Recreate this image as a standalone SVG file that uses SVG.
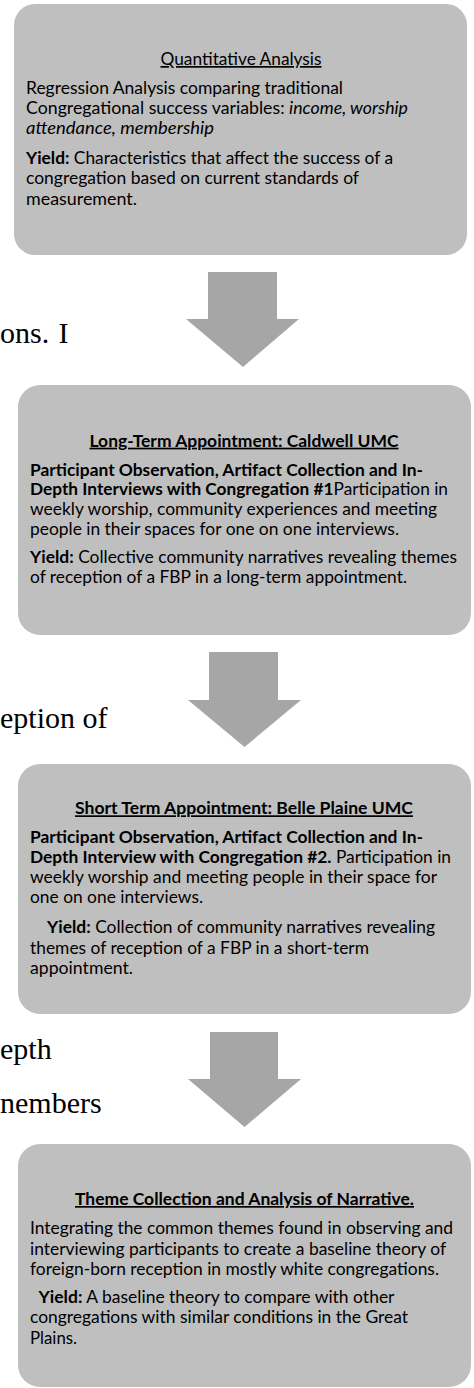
<svg xmlns="http://www.w3.org/2000/svg" width="474" height="1388" viewBox="0 0 474 1388">
  <style>
    .box { fill: #bfbfbf; }
    .arrow { fill: #a6a6a6; }
    .t { font-family: Lato, "Open Sans", "Liberation Sans", sans-serif; font-size: 17px; fill: #000; }
    .title { text-anchor: middle; text-decoration: underline; }
    .b { font-weight: bold; }
    .i { font-style: italic; }
    .serif { font-family: "Liberation Serif", "Times New Roman", serif; font-size: 30px; fill: #000; }
  </style>
  <rect width="474" height="1388" fill="#ffffff"/>

  <!-- body text of the page running behind the flowchart -->
  <g id="page-text">
    <text class="serif" x="0" y="342.7">ons.<tspan x="58.5">I</tspan></text>
    <text class="serif" x="0" y="728">eption of</text>
    <text class="serif" x="0" y="1059">epth</text>
    <text class="serif" x="0" y="1113">nembers</text>
  </g>

  <!-- block arrows between stages -->
  <g id="connectors">
    <polygon class="arrow" points="208,272 277,272 277,319 299,319 243,367 186,319 208,319"/>
    <polygon class="arrow" points="209,652 278,652 278,700 301,700 244.5,747 188,700 209,700"/>
    <polygon class="arrow" points="210,1032 278,1032 278,1079 301,1079 244.5,1127 188,1079 210,1079"/>
  </g>

  <g id="quantitative">
    <rect class="box" x="14" y="4" width="453" height="251" rx="21"/>
    <text class="t title" x="241" y="65" textLength="161" lengthAdjust="spacingAndGlyphs">Quantitative Analysis</text>
    <text class="t" x="26" y="94" textLength="317" lengthAdjust="spacingAndGlyphs">Regression Analysis comparing traditional</text>
    <text class="t" x="26" y="114" textLength="382" lengthAdjust="spacingAndGlyphs">Congregational success variables: <tspan class="i">income, worship</tspan></text>
    <text class="t i" x="26" y="134" textLength="188" lengthAdjust="spacingAndGlyphs">attendance, membership</text>
    <text class="t" x="26" y="164" textLength="367" lengthAdjust="spacingAndGlyphs"><tspan class="b">Yield:</tspan> Characteristics that affect the success of a</text>
    <text class="t" x="26" y="184.3" textLength="333" lengthAdjust="spacingAndGlyphs">congregation based on current standards of</text>
    <text class="t" x="26" y="205" textLength="111" lengthAdjust="spacingAndGlyphs">measurement.</text>
  </g>

  <g id="long-term">
    <rect class="box" x="18" y="385" width="453" height="250" rx="22"/>
    <text class="t title b" x="244" y="446.7" textLength="309" lengthAdjust="spacingAndGlyphs">Long-Term Appointment: Caldwell UMC</text>
    <text class="t b" x="30" y="475.7" textLength="393" lengthAdjust="spacingAndGlyphs">Participant Observation, Artifact Collection and In-</text>
    <text class="t" x="30" y="495" textLength="418" lengthAdjust="spacingAndGlyphs"><tspan class="b">Depth Interviews with Congregation #1</tspan>Participation in</text>
    <text class="t" x="30" y="515" textLength="407" lengthAdjust="spacingAndGlyphs">weekly worship, community experiences and meeting</text>
    <text class="t" x="30" y="535" textLength="369" lengthAdjust="spacingAndGlyphs">people in their spaces for one on one interviews.</text>
    <text class="t" x="30" y="563" textLength="427" lengthAdjust="spacingAndGlyphs"><tspan class="b">Yield:</tspan> Collective community narratives revealing themes</text>
    <text class="t" x="30" y="583" textLength="377" lengthAdjust="spacingAndGlyphs">of reception of a FBP in a long-term appointment.</text>
  </g>

  <g id="short-term">
    <rect class="box" x="18" y="764" width="453" height="250" rx="22"/>
    <text class="t title b" x="244" y="814.3" textLength="338" lengthAdjust="spacingAndGlyphs">Short Term Appointment: Belle Plaine UMC</text>
    <text class="t b" x="30" y="843.3" textLength="393" lengthAdjust="spacingAndGlyphs">Participant Observation, Artifact Collection and In-</text>
    <text class="t" x="30" y="863.3" textLength="421" lengthAdjust="spacingAndGlyphs"><tspan class="b">Depth Interview with Congregation #2.</tspan> Participation in</text>
    <text class="t" x="30" y="883.3" textLength="407" lengthAdjust="spacingAndGlyphs">weekly worship and meeting people in their space for</text>
    <text class="t" x="30" y="903.3" textLength="173" lengthAdjust="spacingAndGlyphs">one on one interviews.</text>
    <text class="t" x="47" y="933.3" textLength="388" lengthAdjust="spacingAndGlyphs"><tspan class="b">Yield:</tspan> Collection of community narratives revealing</text>
    <text class="t" x="30" y="954.3" textLength="339" lengthAdjust="spacingAndGlyphs">themes of reception of a FBP in a short-term</text>
    <text class="t" x="30" y="974.3" textLength="103" lengthAdjust="spacingAndGlyphs">appointment.</text>
  </g>

  <g id="theme-analysis">
    <rect class="box" x="18" y="1144" width="453" height="243" rx="22"/>
    <text class="t title b" x="244.5" y="1205" textLength="339" lengthAdjust="spacingAndGlyphs">Theme Collection and Analysis of Narrative.</text>
    <text class="t" x="30" y="1234.3" textLength="423" lengthAdjust="spacingAndGlyphs">Integrating the common themes found in observing and</text>
    <text class="t" x="30" y="1255" textLength="416" lengthAdjust="spacingAndGlyphs">interviewing participants to create a baseline theory of</text>
    <text class="t" x="30" y="1275" textLength="409" lengthAdjust="spacingAndGlyphs">foreign-born reception in mostly white congregations.</text>
    <text class="t" x="38.5" y="1303.3" textLength="356" lengthAdjust="spacingAndGlyphs"><tspan class="b">Yield:</tspan> A baseline theory to compare with other</text>
    <text class="t" x="30" y="1323.3" textLength="378" lengthAdjust="spacingAndGlyphs">congregations with similar conditions in the Great</text>
    <text class="t" x="30" y="1344" textLength="47" lengthAdjust="spacingAndGlyphs">Plains.</text>
  </g>
</svg>
